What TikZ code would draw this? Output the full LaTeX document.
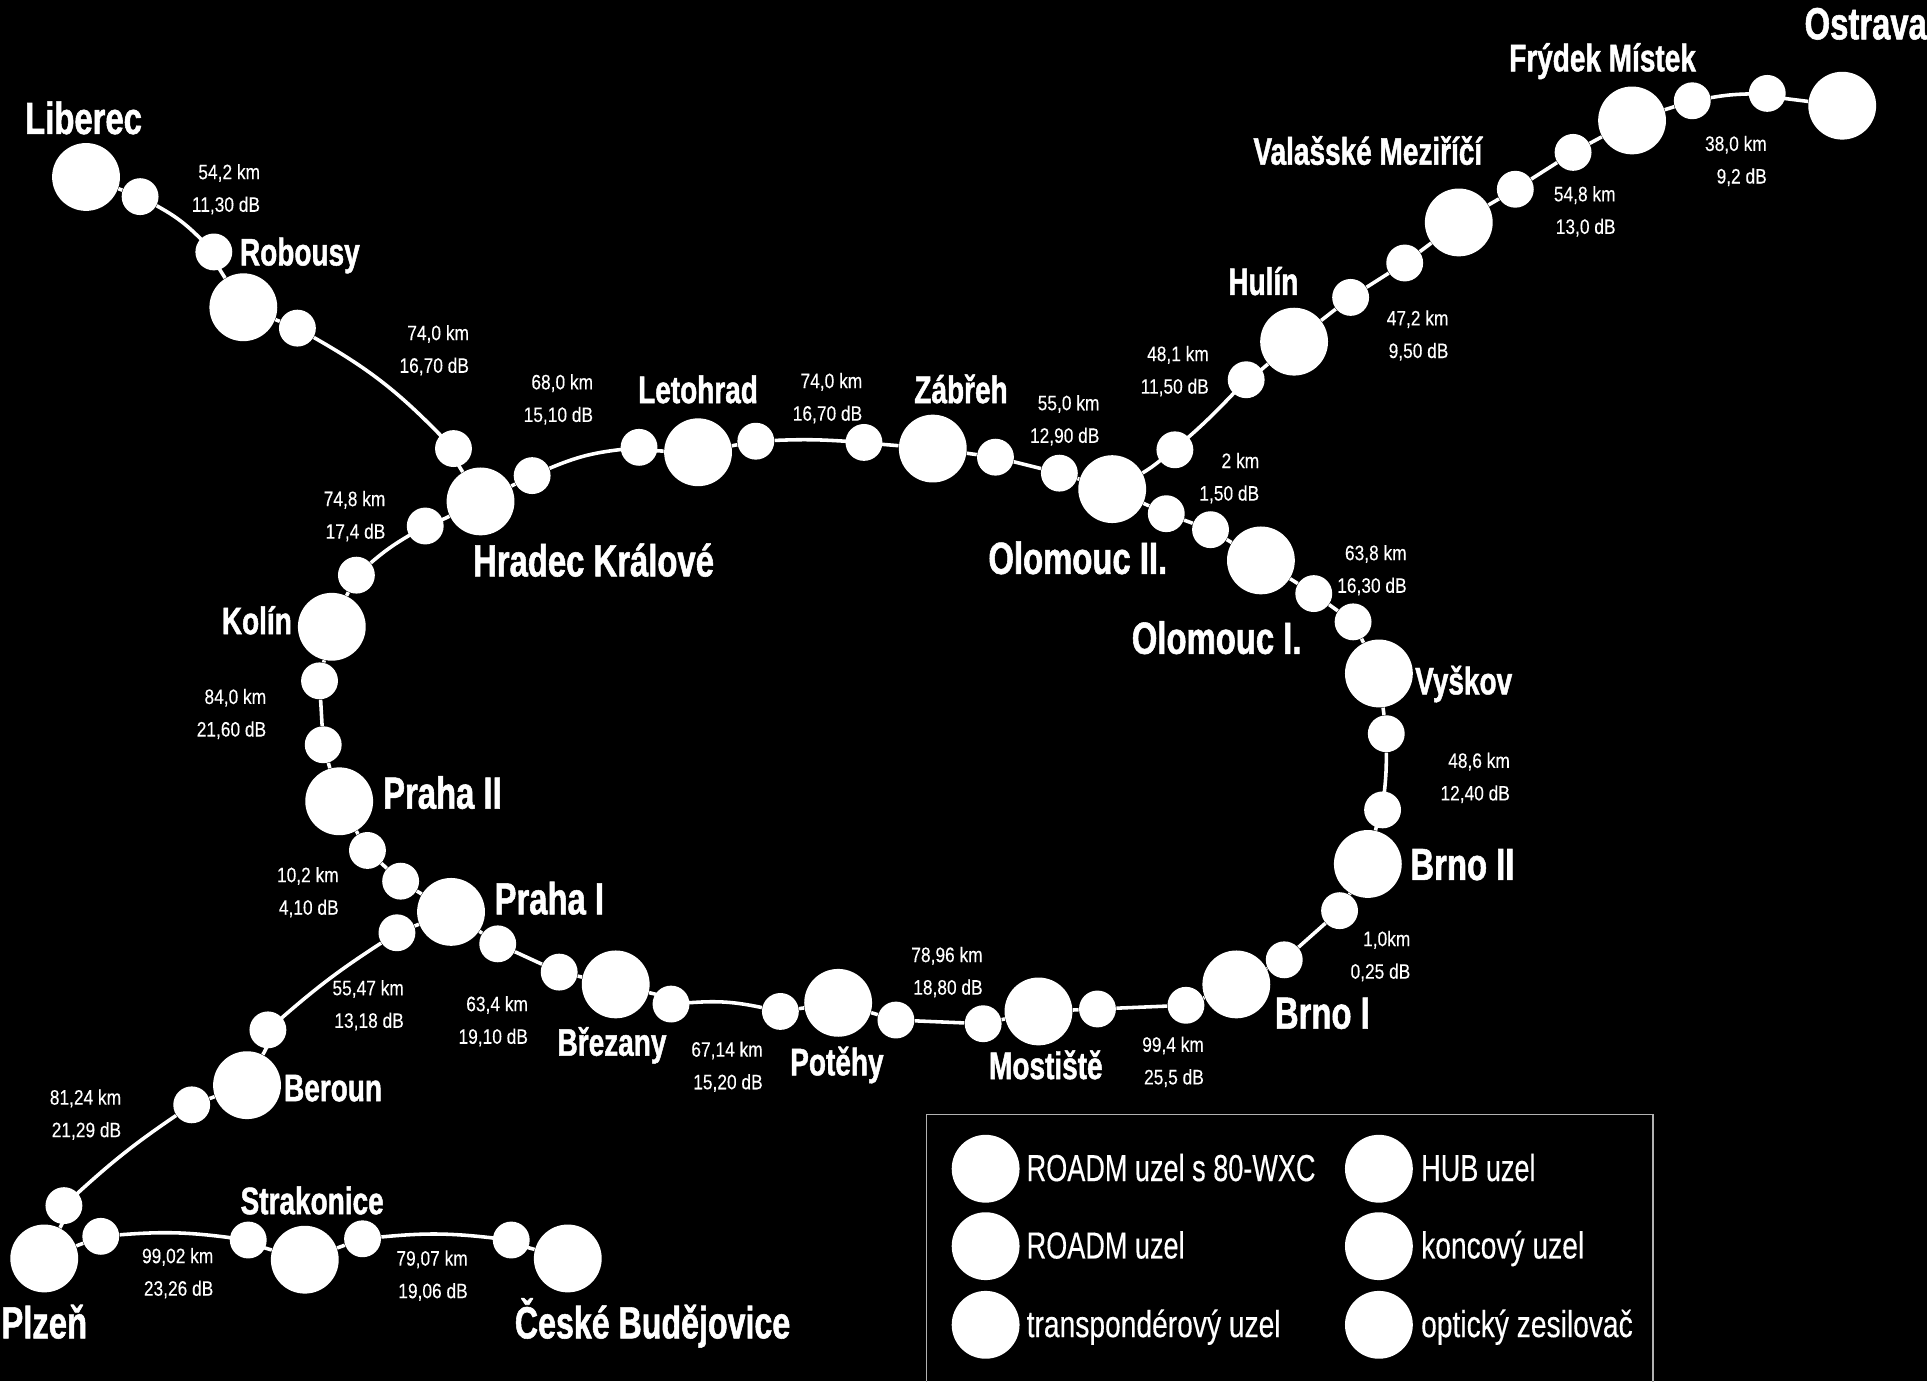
\documentclass[tikz,border=0pt]{standalone}
\usepackage{fontspec}
\setmainfont{Liberation Sans}
\newfontfamily\boldcond[FakeStretch=0.73,FakeBold=1.2]{Liberation Sans Bold}
\newfontfamily\smallcond[FakeStretch=0.83,FakeBold=0.2]{Liberation Sans}
\newfontfamily\legcond[FakeStretch=0.72,FakeBold=0.3]{Liberation Sans}
\newfontfamily\legcondb[FakeStretch=0.75,FakeBold=0.3]{Liberation Sans}
\tikzset{
  big/.style={circle,fill=white,inner sep=0pt,minimum size=27.6pt},
  amp/.style={circle,fill=white,inner sep=0pt,minimum size=15pt},
  link/.style={draw=white,line width=1.45pt},
  city/.style={text=white,inner sep=0pt,anchor=base,font=\boldcond\fontsize{18.3}{20}\selectfont},
  citys/.style={text=white,inner sep=0pt,anchor=base,font=\boldcond\fontsize{15.6}{18}\selectfont},
  dist/.style={text=white,inner sep=0pt,anchor=east,align=right,font=\smallcond\fontsize{8.5}{13.25}\selectfont},
  legt/.style={text=white,inner sep=0pt,anchor=base west,font=\legcond\fontsize{15.3}{18}\selectfont},
  legu/.style={text=white,inner sep=0pt,anchor=base west,font=\legcondb\fontsize{15.3}{18}\selectfont},
}
\begin{document}
\begin{tikzpicture}[x=0.5pt,y=-0.5pt]
\useasboundingbox (0,0) rectangle (1568,1123.8);
\fill[black] (0,0) rectangle (1568,1123.8);
% big nodes
\foreach \n/\x/\y in {lib/70/144,rob/198/250,hk/391/408,let/568/368,zab/759/365,olb/905/398,ola/1026/456,vys/1122/548,bra/1113/703,brb/1006/801,mos/845/823,pot/682/816,bre/501/801,pra/367/742,prb/276/652,kol/270/510,ber/201/883,plz/36/1024,str/248/1025,cb/462/1024,hul/1053/278,val/1187/181,fry/1328/98,ost/1499/86}
  \node[big] (\n) at (\x,\y) {};
% amplifiers
\foreach \n/\x/\y in {a1/114/160,a2/174/205,a3/242/267,a4/369/365,a5/433/387,a6/346/428,a7/290/468,a8/520/364,a9/615/359,a10/703/360,a11/810/372,a12/862/385,a13/1014/309,a14/956/366,a15/949/418,a16/985/431,a17/1069/483,a18/1101/506,a19/1128/597,a20/1125/659,a21/1090/741,a22/1045/781,a23/965/818,a24/893/821,a25/800/833,a26/729/830,a27/635/823,a28/546/817,a29/455/791,a30/405/768,a31/326/717,a32/299/692,a33/263/606,a34/260/554,a35/323/759,a36/218/838,a37/156/899,a38/52/981,a39/82/1006,a40/202/1009,a41/295/1008,a42/416/1009,a43/1099/242,a44/1143/214,a45/1233/154,a46/1280/124,a47/1377/82,a48/1438/76}
  \node[amp] (\n) at (\x,\y) {};
% connectors
\draw[link] (lib) -- (a1) to[bend left=8] (a2) -- (rob) -- (a3) to[bend left=8] (a4) -- (hk);
\draw[link] (hk) -- (a5) to[bend left=8] (a8) -- (let) -- (a9) to[bend left=3] (a10) -- (zab) -- (a11) -- (a12) -- (olb);
\draw[link] (olb) to[bend right=4] (a14) to[bend right=4] (a13) -- (hul) -- (a43) -- (a44) -- (val) -- (a45) -- (a46) -- (fry) -- (a47) to[bend left=4] (a48) -- (ost);
\draw[link] (olb) -- (a15) -- (a16) -- (ola) -- (a17) -- (a18) -- (vys) -- (a19) to[bend left=3] (a20) -- (bra) -- (a21) -- (a22) -- (brb) -- (a23) -- (a24) -- (mos) -- (a25) -- (a26) -- (pot) -- (a27) to[bend right=8] (a28) -- (bre) -- (a29) -- (a30) -- (pra) -- (a31) -- (a32) -- (prb) -- (a33) -- (a34) -- (kol) -- (a7) to[bend left=5] (a6) -- (hk);
\draw[link] (pra) -- (a35) to[bend right=4] (a36) -- (ber) -- (a37) to[bend right=4] (a38) -- (plz) -- (a39) to[bend left=6] (a40) -- (str) -- (a41) to[bend left=6] (a42) -- (cb);
% names
\foreach \n/\x/\y/\t in {nlib/68/109/Liberec,nhk/483/469/Hradec Králové,nolb/877/467/Olomouc II.,nola/990/532/Olomouc I.,nbra/1190/716/Brno II,nbrb/1076/837/Brno I,npra/447/744/Praha I,nprb/360/658/Praha II,nplz/36/1089/Plzeň}
  \node[city] (\n) at (\x,\y) {\t};
\node[city,xscale=0.98] (ncb) at (531,1089) {České Budějovice};
\foreach \n/\x/\y/\t in {nrob/244/216/Robousy,nlet/568/328/Letohrad,nzab/782/328/Zábřeh,nvys/1191/565/Vyškov,nmos/851/878/Mostiště,npot/681/875/Potěhy,nbre/498/859/Březany,nkol/209/516/Kolín,nber/271/896/Beroun,nstr/254/988/Strakonice,nhul/1028/240/Hulín,nval/1113/134/Valašské Meziříčí,nfry/1304/58/Frýdek Místek}
  \node[citys] (\n) at (\x,\y) {\t};
\node[city,anchor=base west] (nost) at (1468,32) {Ostrava};
% distances
\node[dist] (d1) at (212,154) {54,2 km\\11,30 dB};
\node[dist] (d2) at (382,285) {74,0 km\\16,70 dB};
\node[dist] (d3) at (483,325) {68,0 km\\15,10 dB};
\node[dist] (d4) at (702,324) {74,0 km\\16,70 dB};
\node[dist] (d5) at (895,342) {55,0 km\\12,90 dB};
\node[dist] (d6) at (984,302) {48,1 km\\11,50 dB};
\node[dist] (d7) at (1179,273) {47,2 km\\9,50 dB};
\node[dist] (d8) at (1315,172) {54,8 km\\13,0 dB};
\node[dist] (d9) at (1438,131) {38,0 km\\9,2 dB};
\node[dist] (d10) at (1025,389) {2 km\\1,50 dB};
\node[dist] (d11) at (1145,464) {63,8 km\\16,30 dB};
\node[dist] (d12) at (1229,633) {48,6 km\\12,40 dB};
\node[dist] (d13) at (1148,778) {1,0km\\0,25 dB};
\node[dist] (d14) at (980,864) {99,4 km\\25,5 dB};
\node[dist] (d15) at (800,791) {78,96 km\\18,80 dB};
\node[dist] (d16) at (621,868) {67,14 km\\15,20 dB};
\node[dist] (d17) at (430,831) {63,4 km\\19,10 dB};
\node[dist] (d18) at (329,818) {55,47 km\\13,18 dB};
\node[dist] (d19) at (276,726) {10,2 km\\4,10 dB};
\node[dist] (d20) at (314,420) {74,8 km\\17,4 dB};
\node[dist] (d21) at (217,581) {84,0 km\\21,60 dB};
\node[dist] (d22) at (99,907) {81,24 km\\21,29 dB};
\node[dist] (d23) at (174,1036) {99,02 km\\23,26 dB};
\node[dist] (d24) at (381,1038) {79,07 km\\19,06 dB};
% legend
\draw[white!70!black,line width=0.5pt] (754,907) rectangle (1345,1130);
\foreach \n/\x/\y in {la/802/951,lb/802/1014,lc/802/1078,ld/1122/951,le/1122/1014,lf/1122/1078}
  \node[big] (\n) at (\x,\y) {};
\node[legt] (ta) at (835,961) {ROADM uzel s 80-WXC};
\node[legt] (tb) at (835,1024) {ROADM uzel};
\node[legu] (tc) at (835,1088) {transpondérový uzel};
\node[legt] (td) at (1156,961) {HUB uzel};
\node[legu] (te) at (1156,1024) {koncový uzel};
\node[legu] (tf) at (1156,1088) {optický zesilovač};
\end{tikzpicture}
\end{document}
